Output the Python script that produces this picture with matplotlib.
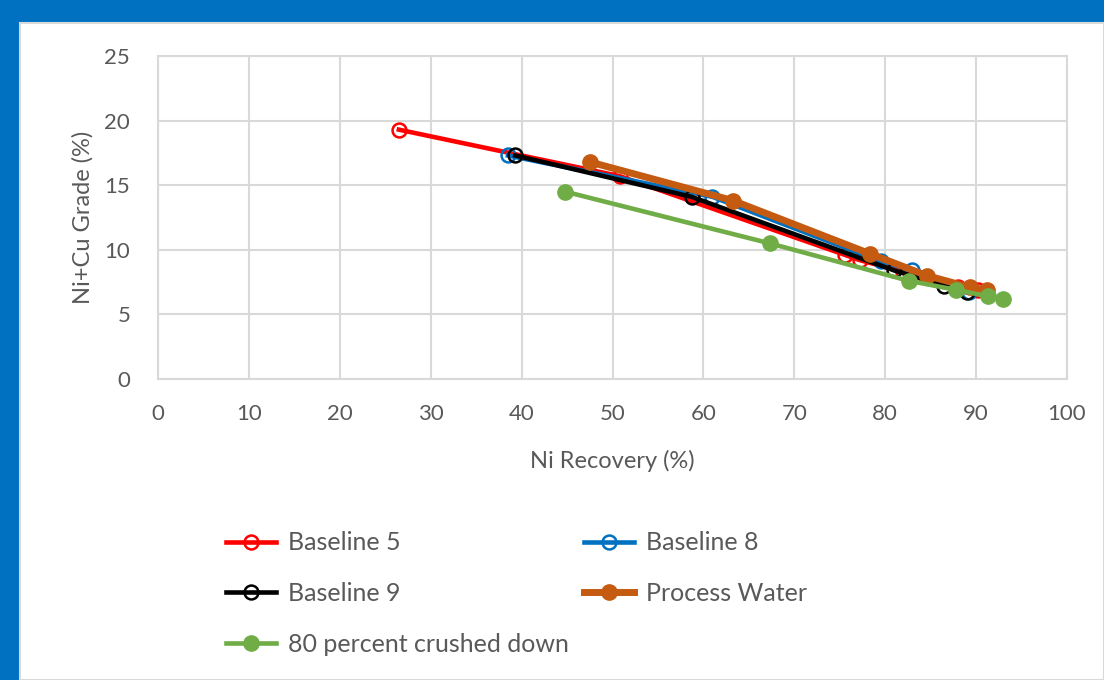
import matplotlib.pyplot as plt
from matplotlib.patches import Rectangle

# Ni recovery (%) vs Ni+Cu grade (%)
b5_x = [26.5, 50.8, 75.6, 77.2, 82.0, 88.0, 90.2]
b5_y = [19.3, 15.7, 9.6, 9.2, 8.3, 7.1, 6.9]

b8_x = [38.5, 61.0, 79.5, 83.0, 89.2]
b8_y = [17.3, 14.1, 9.1, 8.4, 6.7]

b9_x = [39.3, 58.7, 81.0, 86.5, 89.0]
b9_y = [17.3, 14.1, 8.4, 7.2, 6.7]

pw_x = [47.5, 63.3, 78.3, 84.6, 89.3, 91.2]
pw_y = [16.8, 13.8, 9.7, 8.0, 7.1, 6.9]

cr_x = [44.8, 67.3, 82.6, 87.8, 91.3, 93.0]
cr_y = [14.5, 10.5, 7.6, 6.9, 6.4, 6.2]

x_ticks = [0, 10, 20, 30, 40, 50, 60, 70, 80, 90, 100]
y_ticks = [0, 5, 10, 15, 20, 25]

plt.rcParams['font.family'] = ['Lato', 'DejaVu Sans']
txt = '#595959'
grid_c = '#D9D9D9'

fig = plt.figure(figsize=(11.04, 6.8), dpi=100)
fig.patch.set_facecolor('#0070C0')
bg = Rectangle((20 / 1104, 0), 1 - 20 / 1104, 1 - 23 / 680,
               transform=fig.transFigure, facecolor='white',
               edgecolor=grid_c, linewidth=1.5, zorder=-10)
fig.patches.append(bg)

ax = fig.add_axes([158 / 1104, 1 - 379 / 680, (1067 - 158) / 1104, (379 - 56) / 680])
ax.set_facecolor('white')

h5, = ax.plot(b5_x, b5_y, color='#FF0000', lw=3.3, marker='o', ms=10,
              mfc='none', mec='#FF0000', mew=1.8, label='Baseline 5', zorder=3)
h8, = ax.plot(b8_x, b8_y, color='#0070C0', lw=3.3, marker='o', ms=10,
              mfc='none', mec='#0070C0', mew=1.8, label='Baseline 8', zorder=4)
h9, = ax.plot(b9_x, b9_y, color='black', lw=3.3, marker='o', ms=10,
              mfc='none', mec='black', mew=1.8, label='Baseline 9', zorder=5)
hp, = ax.plot(pw_x, pw_y, color='#C55A11', lw=5, marker='o', ms=11,
              label='Process Water', zorder=6)
hc, = ax.plot(cr_x, cr_y, color='#70AD47', lw=3.3, marker='o', ms=11,
              label='80 percent crushed down', zorder=7)

ax.set_xlim(0, 100)
ax.set_ylim(0, 25)
ax.set_xticks(x_ticks)
ax.set_yticks(y_ticks)
ax.grid(True, color=grid_c, lw=1.5)
ax.set_axisbelow(True)
for s in ax.spines.values():
    s.set_color(grid_c)
    s.set_linewidth(1.5)
ax.tick_params(length=0, labelsize=16, colors=txt)
ax.tick_params(axis='y', pad=20)
ax.tick_params(axis='x', pad=18)
ax.set_xlabel('Ni Recovery (%)', fontsize=17, color=txt, labelpad=19)
ax.set_ylabel('Ni+Cu Grade (%)', fontsize=17, color=txt, labelpad=8)

fig.legend(handles=[h5, h9, hc, h8, hp], ncol=2, loc='upper left',
           bbox_to_anchor=(203 / 1104, 1 - 509 / 680), frameon=False,
           fontsize=18, labelcolor=txt, handlelength=2.0, handletextpad=0.5,
           labelspacing=1.1, columnspacing=0.6)

fig.savefig('out.png', dpi=100, facecolor=fig.get_facecolor())
